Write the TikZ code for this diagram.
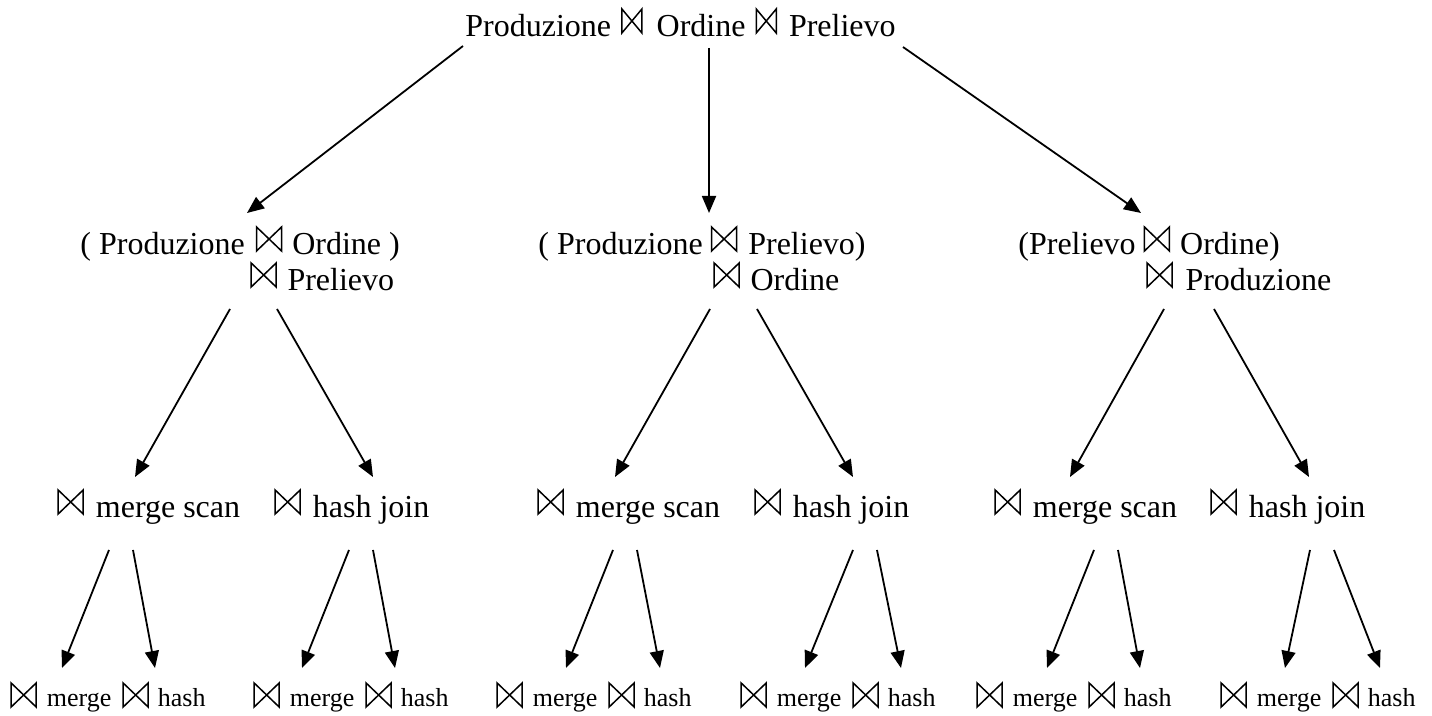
\documentclass[tikz,border=0pt]{standalone}
\usepackage{fontspec}
\setmainfont{Liberation Serif}
\usetikzlibrary{arrows.meta}
\newcommand{\bt}[1][12.5]{\tikz[baseline=0pt,x=1pt,y=1pt]{\draw[line width=0.75pt,line join=miter,black] (0,2)--(0,14)--(#1,2)--(#1,14)--cycle;}}
\newcommand{\btl}{\raisebox{-2pt}{\bt[12.5]}}
\newcommand{\smtxt}[1]{{\fontsize{13}{15}\selectfont #1}}
\tikzset{
  lbl/.style={anchor=base west, inner sep=0pt, font=\fontsize{16}{18}\selectfont},
  arr/.style={-{Triangle[length=8.5pt,width=7pt]}, line width=0.9pt},
}
\begin{document}
\begin{tikzpicture}[x=0.5pt,y=-0.5pt]
\useasboundingbox (0,0) rectangle (1432,716);

% level 1
\node[lbl] (top) at (465,37) {Produzione\hspace{5pt}\bt[10]\hspace{7pt}Ordine\hspace{5pt}\bt[10]\hspace{6pt}Prelievo};

% level 2
\node[lbl] (La) at (80,255) {( Produzione\hspace{5.5pt}\bt\hspace{5pt}Ordine )};
\node[lbl] (Lb) at (250,291) {\bt\hspace{5.3pt}Prelievo};
\node[lbl] (Ma) at (538,255) {( Produzione\hspace{4pt}\bt\hspace{5.5pt}Prelievo)};
\node[lbl] (Mb) at (713,291) {\bt\hspace{5.3pt}Ordine};
\node[lbl] (Ra) at (1018,255) {(Prelievo\hspace{4pt}\bt\hspace{5pt}Ordine)};
\node[lbl] (Rb) at (1146,291) {\bt\hspace{6.3pt}Produzione};

% level 3
\node[lbl] (Lm) at (57,518) {\bt\hspace{6pt}merge scan};
\node[lbl] (Lh) at (274,518) {\bt\hspace{6pt}hash join};
\node[lbl] (Mm) at (537,518) {\bt\hspace{6pt}merge scan};
\node[lbl] (Mh) at (754,518) {\bt\hspace{6pt}hash join};
\node[lbl] (Rm) at (994,518) {\bt\hspace{6pt}merge scan};
\node[lbl] (Rh) at (1210,518) {\bt\hspace{6pt}hash join};

% level 4
\foreach \nm/\xx in {Lmx/10, Lhx/253, Mmx/496, Mhx/740, Rmx/976, Rhx/1220}{
  \node[lbl] (\nm) at (\xx,707) {\btl\hspace{5pt}\smtxt{merge}\hspace{5.5pt}\btl\hspace{4.5pt}\smtxt{hash}};
}

% connector end points
\coordinate (t1) at (463,46);   \coordinate (t1e) at (247,213);
\coordinate (t2) at (709,48);   \coordinate (t2e) at (709,213);
\coordinate (t3) at (903,47);   \coordinate (t3e) at (1141,213);

\coordinate (L1) at (230,309);  \coordinate (L1e) at (135,477);
\coordinate (L2) at (277,309);  \coordinate (L2e) at (373,477);
\coordinate (M1) at (710,309);  \coordinate (M1e) at (615,477);
\coordinate (M2) at (757,309);  \coordinate (M2e) at (853,477);
\coordinate (R1) at (1164,309); \coordinate (R1e) at (1070,477);
\coordinate (R2) at (1214,309); \coordinate (R2e) at (1309,477);

\coordinate (a1) at (109,550);  \coordinate (a1e) at (62,668);
\coordinate (a2) at (133,550);  \coordinate (a2e) at (155,668);
\coordinate (a3) at (349,550);  \coordinate (a3e) at (302,668);
\coordinate (a4) at (373,550);  \coordinate (a4e) at (395,668);
\coordinate (b1) at (613,550);  \coordinate (b1e) at (566,668);
\coordinate (b2) at (637,550);  \coordinate (b2e) at (660,668);
\coordinate (b3) at (853,550);  \coordinate (b3e) at (805,668);
\coordinate (b4) at (877,550);  \coordinate (b4e) at (901,668);
\coordinate (c1) at (1094,550); \coordinate (c1e) at (1047,668);
\coordinate (c2) at (1118,550); \coordinate (c2e) at (1140,668);
\coordinate (c3) at (1310,550); \coordinate (c3e) at (1285,668);
\coordinate (c4) at (1334,550); \coordinate (c4e) at (1380,668);

\foreach \p in {t1,t2,t3,L1,L2,M1,M2,R1,R2,a1,a2,a3,a4,b1,b2,b3,b4,c1,c2,c3,c4}{
  \draw[arr] (\p) -- (\p e);
}
\end{tikzpicture}
\end{document}
